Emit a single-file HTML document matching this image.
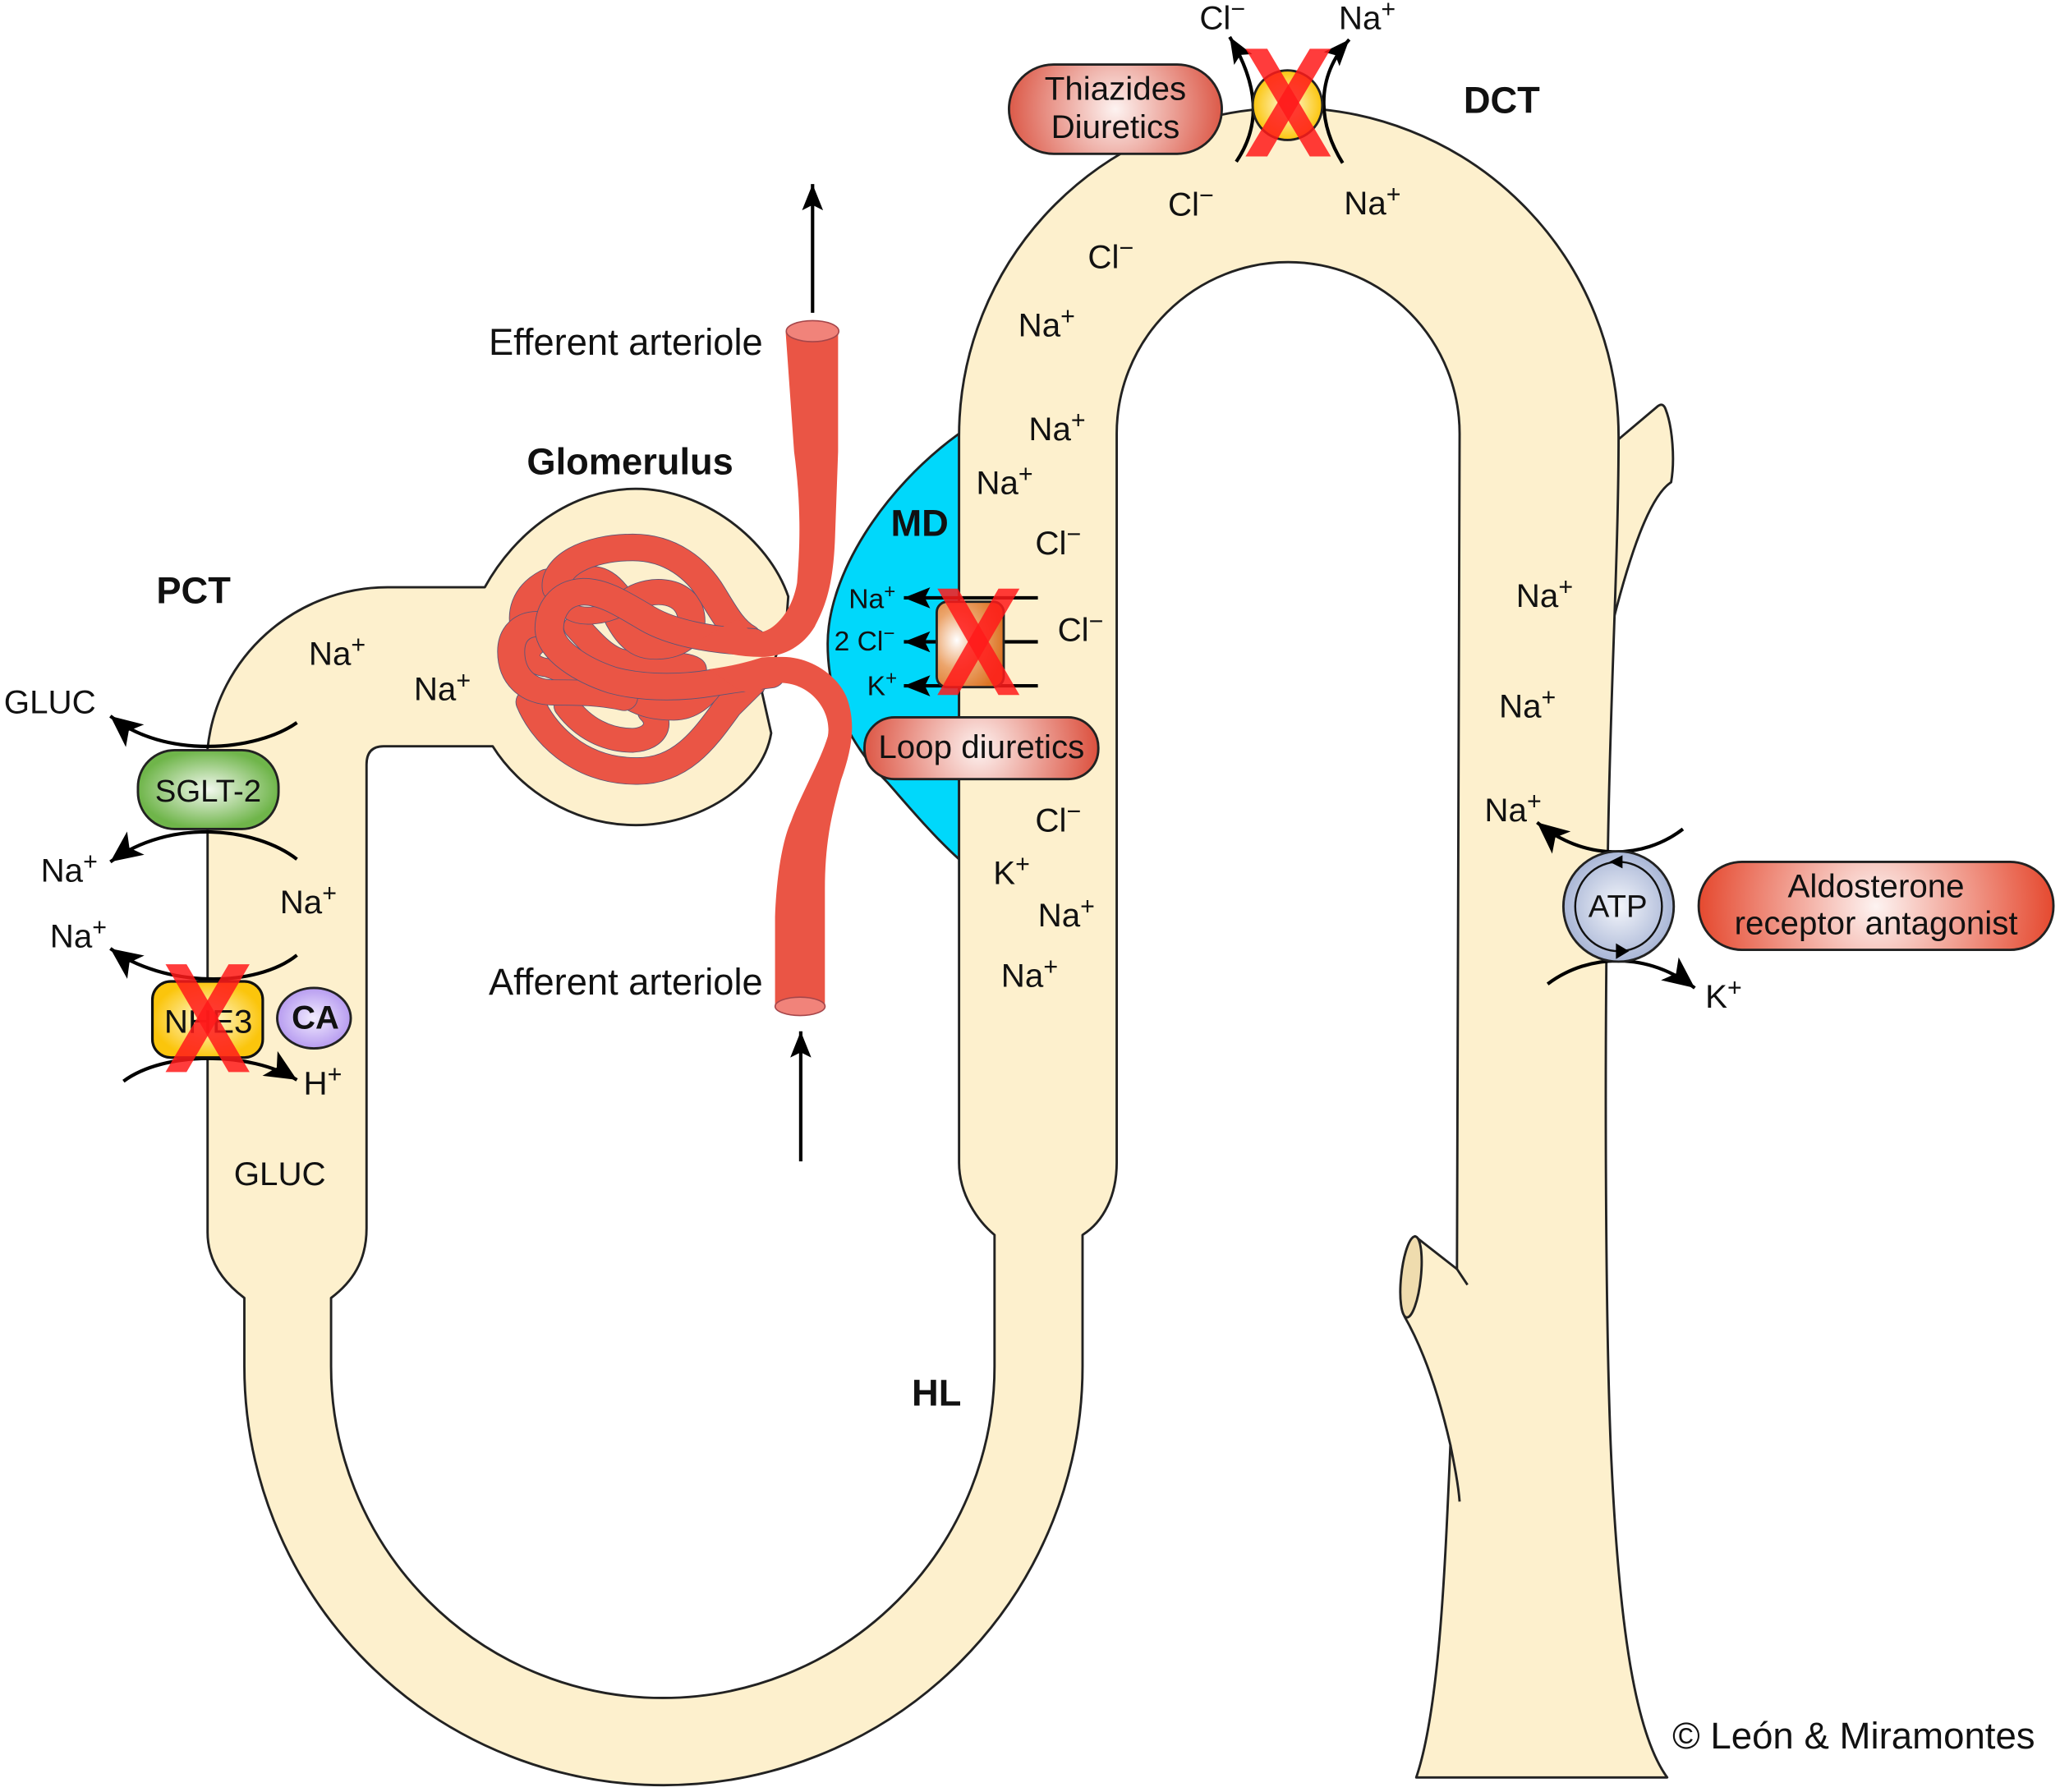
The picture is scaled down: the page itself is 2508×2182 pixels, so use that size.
<!DOCTYPE html>
<html><head><meta charset="utf-8"><style>
html,body{margin:0;padding:0;background:#fff}
svg{display:block;width:2508px;height:2182px}
text{font-family:"Liberation Sans",sans-serif;fill:#111;font-size:25.2px}
.b{font-weight:bold;font-size:28.3px}
.l{font-size:28.3px}
.s{font-size:21px}
.sup{font-size:19px}
.tu{fill:#fdf0cd;stroke:#222;stroke-width:1.8;stroke-linejoin:round}
.ln{fill:none;stroke:#222;stroke-width:1.8}
.ar{fill:none;stroke:#000;stroke-width:2.6;stroke-linecap:butt}
.x{fill:#ff1a1a;opacity:.85}
.o{fill:none;stroke:#5a5578;stroke-linecap:round}
.r{fill:none;stroke:#ea5545;stroke-linecap:round}
</style></head><body>
<svg viewBox="0 0 1568 1364" xmlns="http://www.w3.org/2000/svg">
<defs>
<marker id="ah" markerUnits="userSpaceOnUse" markerWidth="30" markerHeight="26" refX="25" refY="13" orient="auto"><path d="M25,13 L1,2 L7,13 L1,24 Z" fill="#000"/></marker>
<marker id="as" markerUnits="userSpaceOnUse" markerWidth="22" markerHeight="20" refX="20" refY="10" orient="auto"><path d="M20,10 L0,2 L4,10 L0,18 Z" fill="#000"/></marker>
<radialGradient id="grT" gradientUnits="userSpaceOnUse" cx="849" cy="83" r="81"><stop offset="0" stop-color="#fdf3f1"/><stop offset="1" stop-color="#dc5a49"/></radialGradient>
<radialGradient id="grL" gradientUnits="userSpaceOnUse" cx="745" cy="570" r="90"><stop offset="0" stop-color="#fdf3f1"/><stop offset="1" stop-color="#dc5240"/></radialGradient>
<radialGradient id="grA" gradientUnits="userSpaceOnUse" cx="1428" cy="690" r="136"><stop offset="0" stop-color="#fdf3f1"/><stop offset="1" stop-color="#e5482e"/></radialGradient>
<radialGradient id="gg"><stop offset="0" stop-color="#f2f8ee"/><stop offset="1" stop-color="#6fb54a"/></radialGradient>
<radialGradient id="gy"><stop offset="0" stop-color="#fffbe0"/><stop offset="1" stop-color="#fbc50c"/></radialGradient>
<radialGradient id="gp"><stop offset="0" stop-color="#f2ecff"/><stop offset="1" stop-color="#b79cf0"/></radialGradient>
<radialGradient id="go" cx=".3" cy=".45" r=".7"><stop offset="0" stop-color="#fff"/><stop offset=".5" stop-color="#eca56c"/><stop offset="1" stop-color="#dc7424"/></radialGradient>
<radialGradient id="ga"><stop offset="0" stop-color="#f4f6fb"/><stop offset="1" stop-color="#a9b6d6"/></radialGradient>
</defs>
<rect width="1568" height="1364" fill="#fff"/>

<!-- macula densa -->
<path d="M730,330 C672,372 630,438 630,490 C630,530 645,565 675,595 C690,612 710,636 730,654 Z" fill="#00d8fb" stroke="#222" stroke-width="1.8"/>

<!-- branch behind tube -->
<path class="tu" d="M1230,336 L1262,309 Q1266,306 1268,312 C1273,325 1275,350 1272,367 C1255,378 1240,425 1228,472 Z"/>

<!-- main tubule -->
<path class="tu" d="M369,447 C392,405 435,372 484,372 C535,372 585,410 600,454 L598,480 L580,527 L587,558 C580,600 530,628 484,628 C435,628 395,600 375,568 L292,568 Q279,568 279,582 L279,935 C279,960 268,976 252,988 L252,1040 A252,252 0 0 0 757,1040 L757,940 C745,930 730,910 730,885 L730,332 A251,250 0 0 1 1232,332 C1232,420 1226,520 1224,640 C1221,800 1222,1000 1226,1100 C1232,1240 1245,1320 1269,1353 L1078,1353 C1096,1300 1100,1190 1104,1100 C1096,1065 1085,1030 1069,1002 L1077,941 L1109,966 L1111,330 A130,130 0 0 0 850,330 L850,885 C850,910 840,930 824,940 L824,1040 A319,319 0 0 1 186,1040 L186,988 C170,976 158,960 158,938 L158,570 C165,500 225,447 295,447 Z"/>
<path class="ln" d="M1109,966 L1117,978 M1104,1100 C1107,1115 1110,1130 1111,1143"/>
<ellipse cx="1074" cy="972" rx="7.5" ry="31" transform="rotate(6 1074 972)" fill="#efdcae" stroke="#222" stroke-width="1.8"/>

<!-- glomerular tuft with vessels -->
<g transform="translate(350,343.75) scale(.2232,.2083)">
<path class="o" stroke-width="105" d="M300,480 C230,520 200,590 235,680"/><path class="r" stroke-width="100" d="M300,480 C230,520 200,590 235,680"/>
<path class="o" stroke-width="85" d="M400,500 C430,440 490,450 540,520"/><path class="r" stroke-width="80" d="M400,500 C430,440 490,450 540,520"/>
<path class="o" stroke-width="70" d="M270,700 C225,730 225,780 300,790 L400,830"/><path class="r" stroke-width="65" d="M270,700 C225,730 225,780 300,790 L400,830"/>
<path class="o" stroke-width="90" d="M365,930 C420,1010 500,1055 590,1055 C670,1050 690,990 650,950"/><path class="r" stroke-width="85" d="M365,930 C420,1010 500,1055 590,1055 C670,1050 690,990 650,950"/>
<path class="o" stroke-width="100" d="M240,915 C280,1020 400,1167 600,1167 C760,1170 840,1040 915,930 L1000,840"/><path class="r" stroke-width="95" d="M240,915 C280,1020 400,1167 600,1167 C760,1170 840,1040 915,930 L1000,840"/>
<path class="o" stroke-width="95" d="M560,880 C620,930 680,935 730,935 C790,935 830,890 850,860"/><path class="r" stroke-width="90" d="M560,880 C620,930 680,935 730,935 C790,935 830,890 850,860"/>
<path class="o" stroke-width="95" d="M400,640 C450,700 500,760 560,770 C680,790 760,770 795,795"/><path class="r" stroke-width="90" d="M400,640 C450,700 500,760 560,770 C680,790 760,770 795,795"/>
<path class="o" stroke-width="95" d="M580,545 C650,490 790,500 790,620 C790,700 700,720 640,710 C590,700 560,650 540,610"/><path class="r" stroke-width="90" d="M580,545 C650,490 790,500 790,620 C790,700 700,720 640,710 C590,700 560,650 540,610"/>
<path class="o" stroke-width="65" d="M380,585 C420,610 490,600 550,570"/><path class="r" stroke-width="60" d="M380,585 C420,610 490,600 550,570"/>
<path class="o" stroke-width="100" d="M330,500 C320,420 430,350 590,350 C720,350 810,430 860,520 C900,590 930,650 980,680"/><path class="r" stroke-width="95" d="M330,500 C320,420 430,350 590,350 C720,350 810,430 860,520 C900,590 930,650 980,680"/>
<path class="o" stroke-width="95" d="M265,630 C200,630 175,680 175,730 C175,820 230,880 320,880 C400,880 480,880 560,900"/><path class="r" stroke-width="90" d="M265,630 C200,630 175,680 175,730 C175,820 230,880 320,880 C400,880 480,880 560,900"/>
<path class="o" stroke-width="100" d="M1000,695 C850,690 720,660 640,610 C560,560 490,510 420,512 C340,515 305,580 305,650 C310,730 420,800 520,835 C640,870 780,860 860,845 C920,835 980,825 1060,815"/><path class="r" stroke-width="95" d="M1000,695 C850,690 720,660 640,610 C560,560 490,510 420,512 C340,515 305,580 305,650 C310,730 420,800 520,835 C640,870 780,860 860,845 C920,835 980,825 1060,815"/>
<path fill="#ea5545" d="M1111,-440 L1140,0 C1165,200 1160,350 1150,480 C1130,600 1060,660 1020,660 C990,660 970,640 950,610 L880,650 L800,700 C880,735 960,752 1040,750 C1110,745 1170,710 1210,640 C1250,560 1275,480 1280,300 L1290,0 L1290,-440 Z"/>
<path fill="#ea5545" d="M850,795 C920,785 980,770 1030,752 C1055,750 1075,750 1100,750 C1200,750 1290,820 1320,900 C1350,990 1340,1080 1300,1200 C1270,1320 1245,1420 1245,1600 L1245,2027 L1075,2027 L1075,1700 C1080,1550 1100,1420 1130,1350 C1160,1260 1230,1130 1255,1040 C1270,950 1200,850 1100,845 C1060,845 1030,870 1000,885 L950,870 Z"/>
</g>
<ellipse cx="618.500" cy="252" rx="20" ry="8" fill="#f1837a" stroke="#a5464a" stroke-width="1"/>
<ellipse cx="609" cy="766" rx="19" ry="7" fill="#f1837a" stroke="#a5464a" stroke-width="1"/>

<!-- up/down arrows -->
<path class="ar" d="M618.500,238 V140" marker-end="url(#as)"/>
<path class="ar" d="M609.500,884 V785" marker-end="url(#as)"/>

<!-- transport arcs -->
<path class="ar" d="M226,550 C195,572 125,578 84,545" marker-end="url(#ah)"/>
<path class="ar" d="M226,654 C195,630 130,622 84,656" marker-end="url(#ah)"/>
<path class="ar" d="M226,727 C195,752 125,752 84,722" marker-end="url(#ah)"/>
<path class="ar" d="M94,823 C125,800 190,800 226,822" marker-end="url(#ah)"/>
<path class="ar" d="M941,123 C960,95 958,65 936,28" marker-end="url(#as)"/>
<path class="ar" d="M1022,124 C1004,95 1000,60 1027,30" marker-end="url(#as)"/>
<path class="ar" d="M1281,631 C1250,655 1205,655 1170,626" marker-end="url(#ah)"/>
<path class="ar" d="M1178,749 C1210,725 1255,725 1290,752" marker-end="url(#ah)"/>
<path class="ar" d="M790,455 H688" marker-end="url(#as)"/>
<path class="ar" d="M790,488.500 H688" marker-end="url(#as)"/>
<path class="ar" d="M790,522 H688" marker-end="url(#as)"/>

<!-- transporters -->
<rect x="105" y="571" width="107" height="60" rx="28" fill="url(#gg)" stroke="#222" stroke-width="1.8"/>
<rect x="116" y="747" width="84" height="58" rx="14" fill="url(#gy)" stroke="#111" stroke-width="2"/>
<ellipse cx="239" cy="775" rx="28" ry="23" fill="url(#gp)" stroke="#222" stroke-width="1.8"/>
<rect x="713" y="458" width="51" height="65" rx="8" fill="url(#go)" stroke="#222" stroke-width="1.8"/>
<circle cx="980" cy="80" r="26.500" fill="url(#gy)" stroke="#222" stroke-width="1.8"/>
<ellipse cx="1232" cy="690" rx="42" ry="42" fill="url(#ga)" stroke="#222" stroke-width="1.8"/>
<ellipse cx="1232" cy="690" rx="33" ry="34" fill="none" stroke="#111" stroke-width="1.5"/>
<path d="M1225,656 L1235,651 L1235,661 Z M1240,724 L1230,718 L1230,730 Z" fill="#000"/>

<!-- pills -->
<rect x="768" y="49" width="162" height="68" rx="34" fill="url(#grT)" stroke="#222" stroke-width="1.8"/>
<rect x="658" y="546" width="178" height="47" rx="23" fill="url(#grL)" stroke="#222" stroke-width="1.8"/>
<rect x="1293" y="656" width="270" height="67" rx="33" fill="url(#grA)" stroke="#222" stroke-width="1.8"/>

<!-- labels -->
<text x="3" y="543">GLUC</text>
<text class="b" x="119" y="459">PCT</text>
<text x="235" y="506">Na<tspan class="sup" dy="-9">+</tspan></text>
<text x="315" y="533">Na<tspan class="sup" dy="-9">+</tspan></text>
<text x="31" y="671">Na<tspan class="sup" dy="-9">+</tspan></text>
<text x="213" y="695">Na<tspan class="sup" dy="-9">+</tspan></text>
<text x="38" y="721">Na<tspan class="sup" dy="-9">+</tspan></text>
<text x="231" y="833">H<tspan class="sup" dy="-9">+</tspan></text>
<text x="178" y="902">GLUC</text>
<text x="118" y="610" style="font-size:24px">SGLT-2</text>
<text x="125" y="786">NHE3</text>
<text x="222" y="783" style="font-weight:bold;font-size:25px">CA</text>
<text class="l" x="372" y="270">Efferent arteriole</text>
<text class="l" x="372" y="757">Afferent arteriole</text>
<text class="b" x="401" y="361">Glomerulus</text>
<text class="b" x="678" y="408">MD</text>
<text x="775" y="256">Na<tspan class="sup" dy="-9">+</tspan></text>
<text x="783" y="335">Na<tspan class="sup" dy="-9">+</tspan></text>
<text x="743" y="376">Na<tspan class="sup" dy="-9">+</tspan></text>
<text x="788" y="422">Cl<tspan class="sup" dy="-9">−</tspan></text>
<text x="805" y="488">Cl<tspan class="sup" dy="-9">−</tspan></text>
<text x="788" y="633">Cl<tspan class="sup" dy="-9">−</tspan></text>
<text x="828" y="204">Cl<tspan class="sup" dy="-9">−</tspan></text>
<text x="889" y="164">Cl<tspan class="sup" dy="-9">−</tspan></text>
<text class="s" x="646" y="463">Na<tspan style="font-size:15px" dy="-8">+</tspan></text>
<text class="s" x="635" y="495">2 Cl<tspan style="font-size:15px" dy="-8">−</tspan></text>
<text class="s" x="660" y="529">K<tspan style="font-size:15px" dy="-8">+</tspan></text>
<text x="756" y="673">K<tspan class="sup" dy="-9">+</tspan></text>
<text x="790" y="705">Na<tspan class="sup" dy="-9">+</tspan></text>
<text x="762" y="751">Na<tspan class="sup" dy="-9">+</tspan></text>
<text x="913" y="22">Cl<tspan class="sup" dy="-9">−</tspan></text>
<text x="1019" y="22">Na<tspan class="sup" dy="-9">+</tspan></text>
<text x="1023" y="163">Na<tspan class="sup" dy="-9">+</tspan></text>
<text class="b" x="1114" y="86">DCT</text>
<text class="b" x="694" y="1070">HL</text>
<text x="1154" y="462">Na<tspan class="sup" dy="-9">+</tspan></text>
<text x="1141" y="546">Na<tspan class="sup" dy="-9">+</tspan></text>
<text x="1130" y="625">Na<tspan class="sup" dy="-9">+</tspan></text>
<text x="1209" y="698" style="font-size:24px">ATP</text>
<text x="1298" y="767">K<tspan class="sup" dy="-9">+</tspan></text>
<text x="1428" y="683" text-anchor="middle">Aldosterone</text>
<text x="1428" y="711" text-anchor="middle">receptor antagonist</text>
<text x="849" y="76" text-anchor="middle">Thiazides</text>
<text x="849" y="105" text-anchor="middle">Diuretics</text>
<text x="747" y="577" text-anchor="middle">Loop diuretics</text>
<text class="l" x="1273" y="1331" style="font-size:28.500px">© León &amp; Miramontes</text>

<!-- red X marks -->
<polygon class="x" points="126,734 142,734 190,816 174,816"/>
<polygon class="x" points="174,734 190,734 142,816 126,816"/>
<polygon class="x" points="713.500,448 729,448 776,529 760,529"/>
<polygon class="x" points="760,448 776,448 729,529 713.500,529"/>
<polygon class="x" points="948,37 964.600,37 1013,119 997,119"/>
<polygon class="x" points="997,37 1013,37 964.600,119 948,119"/>
</svg>
</body></html>
